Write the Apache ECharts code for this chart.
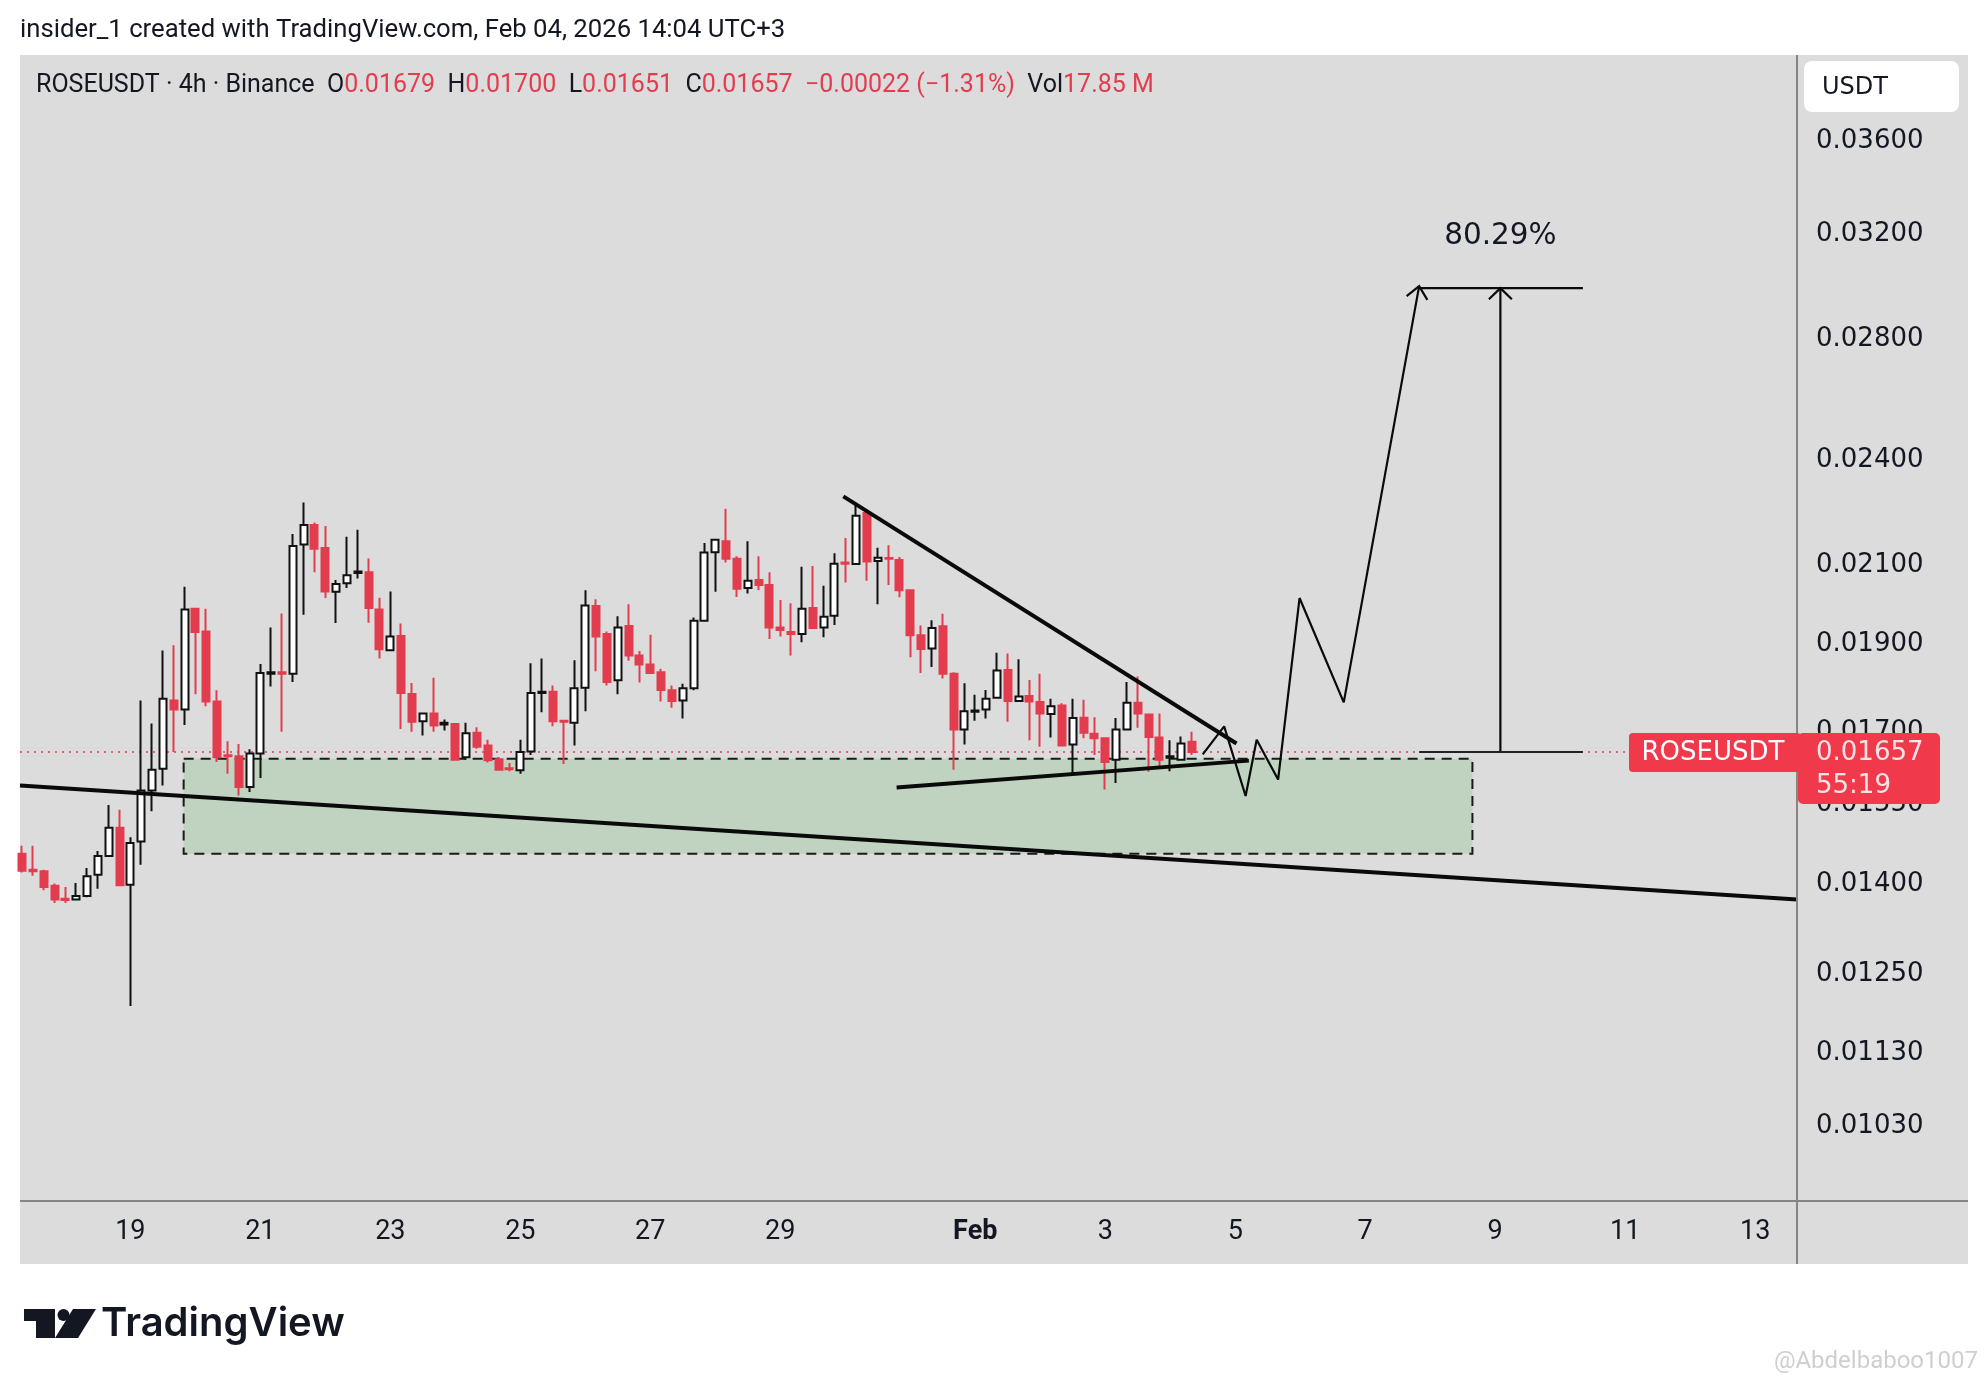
<!DOCTYPE html>
<html><head><meta charset="utf-8">
<script src="https://cdn.jsdelivr.net/npm/echarts@6/dist/echarts.min.js"></script>
<style>html,body{margin:0;padding:0;background:#fff}#c{width:1988px;height:1384px}</style>
</head><body><div id="c"></div>
<script>
// ---- candle data (4h, ROSEUSDT) ----
const firstCandleUTC = Date.UTC(2026, 0, 17, 8);
const candleStepHours = 4;
const opens = [0.01456,0.01427,0.01424,0.01398,0.01375,0.01374,0.01380,0.01418,0.01452,0.01505,
0.01400,0.01479,0.01578,0.01622,0.01769,0.01749,0.01988,0.01931,0.01767,0.01650,
0.01648,0.01585,0.01654,0.01830,0.01834,0.01830,0.02157,0.02211,0.02147,0.02031,
0.02053,0.02080,0.02082,0.01986,0.01886,0.01920,0.01784,0.01723,0.01740,0.01716,
0.01717,0.01646,0.01698,0.01671,0.01642,0.01623,0.01619,0.01658,0.01786,0.01789,
0.01724,0.01720,0.01798,0.01995,0.01925,0.01815,0.01945,0.01873,0.01852,0.01834,
0.01792,0.01769,0.01797,0.01958,0.02136,0.02166,0.02118,0.02041,0.02062,0.02049,
0.01941,0.01930,0.01925,0.01990,0.01941,0.01970,0.02108,0.02104,0.02245,0.02112,
0.02120,0.02115,0.02035,0.01922,0.01890,0.01944,0.01830,0.01705,0.01744,0.01749,
0.01775,0.01839,0.01768,0.01779,0.01766,0.01739,0.01758,0.01673,0.01731,0.01696,
0.01686,0.01641,0.01705,0.01764,0.01738,0.01688,0.01645,0.01641,0.01679];
const highs = [0.01471,0.01471,0.01427,0.01402,0.01396,0.01403,0.01430,0.01461,0.01549,0.01540,
0.01487,0.01769,0.01718,0.01885,0.01898,0.02044,0.01990,0.01988,0.01792,0.01680,
0.01674,0.01663,0.01853,0.01941,0.01976,0.02186,0.02275,0.02218,0.02208,0.02062,
0.02178,0.02198,0.02119,0.02016,0.02032,0.01951,0.01809,0.01740,0.01821,0.01727,
0.01718,0.01720,0.01710,0.01683,0.01646,0.01634,0.01683,0.01855,0.01866,0.01803,
0.01724,0.01862,0.02035,0.02012,0.01931,0.01969,0.01999,0.01884,0.01923,0.01842,
0.01803,0.01807,0.01966,0.02161,0.02170,0.02257,0.02125,0.02166,0.02125,0.02082,
0.02010,0.02002,0.02097,0.02099,0.02047,0.02133,0.02175,0.02271,0.02255,0.02148,
0.02155,0.02123,0.02035,0.01946,0.01959,0.01975,0.01834,0.01808,0.01782,0.01793,
0.01880,0.01878,0.01864,0.01816,0.01830,0.01773,0.01763,0.01773,0.01771,0.01732,
0.01688,0.01730,0.01811,0.01824,0.01738,0.01740,0.01682,0.01690,0.01700];
const lows = [0.01422,0.01416,0.01390,0.01368,0.01368,0.01372,0.01378,0.01393,0.01450,0.01397,
0.01200,0.01436,0.01537,0.01588,0.01657,0.01715,0.01783,0.01756,0.01636,0.01612,
0.01568,0.01575,0.01603,0.01801,0.01700,0.01811,0.01973,0.02082,0.02015,0.01952,
0.02041,0.02066,0.01953,0.01866,0.01885,0.01706,0.01700,0.01692,0.01700,0.01703,
0.01640,0.01641,0.01664,0.01635,0.01619,0.01617,0.01612,0.01651,0.01743,0.01712,
0.01632,0.01671,0.01745,0.01836,0.01803,0.01783,0.01861,0.01810,0.01831,0.01767,
0.01753,0.01729,0.01792,0.01956,0.02031,0.02108,0.02018,0.02027,0.02035,0.01913,
0.01919,0.01873,0.01905,0.01938,0.01917,0.01947,0.02055,0.02103,0.02060,0.01999,
0.02049,0.02017,0.01869,0.01832,0.01846,0.01819,0.01620,0.01673,0.01724,0.01729,
0.01775,0.01722,0.01766,0.01682,0.01668,0.01688,0.01670,0.01609,0.01686,0.01651,
0.01580,0.01593,0.01705,0.01709,0.01616,0.01626,0.01617,0.01640,0.01651];
const closes = [0.01425,0.01424,0.01396,0.01374,0.01373,0.01380,0.01415,0.01452,0.01505,0.01399,
0.01476,0.01578,0.01620,0.01773,0.01749,0.01986,0.01930,0.01767,0.01646,0.01648,
0.01585,0.01654,0.01832,0.01834,0.01830,0.02153,0.02211,0.02145,0.02032,0.02051,
0.02074,0.02084,0.01990,0.01888,0.01919,0.01786,0.01722,0.01740,0.01714,0.01720,
0.01641,0.01697,0.01668,0.01640,0.01620,0.01621,0.01657,0.01786,0.01789,0.01723,
0.01722,0.01797,0.01996,0.01919,0.01811,0.01941,0.01873,0.01852,0.01832,0.01793,
0.01768,0.01797,0.01958,0.02135,0.02170,0.02118,0.02039,0.02060,0.02049,0.01941,
0.01935,0.01925,0.01988,0.01940,0.01968,0.02105,0.02105,0.02237,0.02111,0.02121,
0.02118,0.02035,0.01922,0.01889,0.01940,0.01830,0.01705,0.01745,0.01747,0.01773,
0.01838,0.01768,0.01778,0.01767,0.01740,0.01756,0.01671,0.01730,0.01698,0.01686,
0.01636,0.01705,0.01764,0.01740,0.01689,0.01641,0.01648,0.01675,0.01657];

// ---- axes ----
const xTickDays = [19,21,23,25,27,29,32,34,36,38,40,42,44]; // day-of-January numbering (32 = Feb 1)
const yTickValues = [0.0103,0.0113,0.0125,0.014,0.0155,0.017,0.019,0.021,0.024,0.028,0.032,0.036];
const xRange = [17.302, 44.644];
const yRange = [0.009367, 0.04017];

// ---- drawings (x in days, y in price) ----
const lastPrice = 0.01657;
const zoneRect = [[19.82, 0.01643], [39.65, 0.01456]];
const longTrend = [[17.302, 0.01588], [44.644, 0.01374]];
const upperTrend = [[29.97, 0.02293], [36.02, 0.01675]];
const lowerTrend = [[30.79, 0.01584], [36.21, 0.01639]];
const projection = [[35.50,0.01652],[35.83,0.01712],[36.16,0.01567],[36.33,0.01683],[36.66,0.01600],[36.99,0.02015],[37.67,0.01765],[38.83,0.02995]];
const measureX = 40.08;
const measureSpan = [38.83, 41.35];
const measureFrom = 0.01657;
const measureTo = 0.029874;
const measureText = '80.29%';

const DAY = 86400000;
const jan0 = Date.UTC(2026, 0, 0);
const candleX = opens.map((_, i) => (firstCandleUTC + i * candleStepHours * 3600000 - jan0) / DAY);
const candleData = opens.map((o, i) => [candleX[i], o, closes[i], lows[i], highs[i]]);

const RED = '#e23d4e';
const FONT = 'Roboto';
const WFONT = 'DejaVu Sans';

function lineSeries(data, width, z, color, type) {
  return { type: 'line', data: data, symbol: 'none', silent: true, z: z, animation: false,
    lineStyle: { color: color || '#0a0a0a', width: width, type: type || 'solid' }, clip: true };
}

const option = {
  backgroundColor: '#ffffff',
  animation: false,
  grid: { left: 20, right: 191, top: 55, bottom: 183, containLabel: false },
  xAxis: {
    type: 'value', min: xRange[0], max: xRange[1],
    axisLine: { show: false }, axisTick: { show: false }, splitLine: { show: false },
    axisLabel: {
      customValues: xTickDays, margin: 18, color: '#131722', fontSize: 27, fontFamily: FONT,
      formatter: v => v <= 31 ? String(v) : (v === 32 ? '{b|Feb}' : String(v - 31)),
      rich: { b: { fontWeight: 'bold', fontSize: 27, fontFamily: FONT, color: '#131722' } }
    }
  },
  yAxis: {
    type: 'log', position: 'right', min: yRange[0], max: yRange[1],
    axisLine: { show: false }, axisTick: { show: false }, splitLine: { show: false },
    axisLabel: { customValues: yTickValues, margin: 19, color: '#131722', fontSize: 26, fontFamily: WFONT,
      formatter: v => Number(v).toFixed(5) }
  },
  series: [
    {
      type: 'candlestick', data: candleData, encode: { x: 0, y: [1, 2, 3, 4] }, barWidth: 7.5, z: 3,
      itemStyle: { color: '#ffffff', color0: RED, borderColor: '#111111', borderColor0: RED, borderWidth: 2 },
      markArea: { silent: true, z: 1,
        itemStyle: { color: 'rgba(76,175,80,0.2)', borderColor: '#1a1a1a', borderWidth: 2, borderType: [10, 7] },
        data: [[{ coord: zoneRect[0] }, { coord: zoneRect[1] }]] }
    },
    lineSeries([[xRange[0], lastPrice], [xRange[1], lastPrice]], 1.6, 2, RED, [2, 5]),
    lineSeries(longTrend, 4, 4),
    lineSeries(upperTrend, 4, 4),
    lineSeries(lowerTrend, 4, 4),
    lineSeries(projection, 2.2, 5),
    lineSeries([[measureX, measureFrom], [measureX, measureTo]], 2.2, 5),
    lineSeries([[measureSpan[0], measureTo], [measureSpan[1], measureTo]], 2.2, 5),
    lineSeries([[measureSpan[0], measureFrom], [measureSpan[1], measureFrom]], 2.2, 5, '#222222')
  ]
};

const chart = echarts.init(document.getElementById('c'), null, { renderer: 'canvas', width: 1988, height: 1384 });
chart.setOption(option);

const px = p => chart.convertToPixel({ gridIndex: 0 }, p);
function chevron(tip, from, L, ang) {
  const dx = tip[0] - from[0], dy = tip[1] - from[1];
  const len = Math.hypot(dx, dy), ux = dx / len, uy = dy / len;
  const rot = a => [ux * Math.cos(a) - uy * Math.sin(a), ux * Math.sin(a) + uy * Math.cos(a)];
  const r1 = rot(ang), r2 = rot(-ang);
  return [[tip[0] - L * r1[0], tip[1] - L * r1[1]], tip, [tip[0] - L * r2[0], tip[1] - L * r2[1]]];
}

const priceY = px([xRange[1], lastPrice])[1];
const projTip = px(projection[projection.length - 1]);
const projPrev = px(projection[projection.length - 2]);
const measTip = px([measureX, measureTo]);
const measBase = px([measureX, measureFrom]);

const legendRich = {
  k: { fontSize: 25, fontFamily: FONT, fill: '#131722' },
  r: { fontSize: 25, fontFamily: FONT, fill: RED }
};

chart.setOption({
  graphic: [
    { type: 'rect', z: -100, shape: { x: 20, y: 55, width: 1948, height: 1209 }, style: { fill: '#dcdcdc' }, silent: true },
    { type: 'line', z: 50, shape: { x1: 1797, y1: 55, x2: 1797, y2: 1264 }, style: { stroke: '#858585', lineWidth: 2 }, silent: true },
    { type: 'line', z: 50, shape: { x1: 20, y1: 1201, x2: 1968, y2: 1201 }, style: { stroke: '#858585', lineWidth: 2 }, silent: true },
    { type: 'text', z: 50, style: { x: 20, y: 31, text: 'insider_1 created with TradingView.com, Feb 04, 2026 14:04 UTC+3', fontSize: 25.7, fontFamily: FONT, fill: '#131722', verticalAlign: 'middle' } },
    { type: 'text', z: 50, style: { x: 36, y: 86, verticalAlign: 'middle',
        text: '{k|ROSEUSDT · 4h · Binance  O}{r|0.01679}{k|  H}{r|0.01700}{k|  L}{r|0.01651}{k|  C}{r|0.01657}{r|  −0.00022 (−1.31%)}{k|  Vol}{r|17.85 M}',
        rich: legendRich } },
    { type: 'rect', z: 50, shape: { x: 1804, y: 61, width: 155, height: 51, r: 8 }, style: { fill: '#ffffff' } },
    { type: 'text', z: 51, style: { x: 1822, y: 88, text: 'USDT', fontSize: 24, fontFamily: WFONT, fill: '#131722', verticalAlign: 'middle' } },
    // price tags
    { type: 'rect', z: 100, shape: { x: 1629, y: priceY - 19, width: 172, height: 39, r: 4 }, style: { fill: '#f03a4c' } },
    { type: 'text', z: 101, style: { x: 1713, y: priceY + 1, text: 'ROSEUSDT', fontSize: 26, fontFamily: WFONT, fill: '#ffffff', align: 'center', verticalAlign: 'middle' } },
    { type: 'rect', z: 100, shape: { x: 1798, y: priceY - 19, width: 142, height: 71, r: 5 }, style: { fill: '#f03a4c' } },
    { type: 'text', z: 101, style: { x: 1816, y: priceY + 1, text: lastPrice.toFixed(5), fontSize: 26, fontFamily: WFONT, fill: '#fde3e6', verticalAlign: 'middle' } },
    { type: 'text', z: 101, style: { x: 1816, y: priceY + 34, text: '55:19', fontSize: 26, fontFamily: WFONT, fill: '#fde3e6', verticalAlign: 'middle' } },
    // measure label & arrows
    { type: 'text', z: 60, style: { x: measTip[0], y: measTip[1] - 52, text: measureText, fontSize: 29.5, fontFamily: WFONT, fill: '#131722', align: 'center', verticalAlign: 'middle' } },
    { type: 'polyline', z: 60, shape: { points: chevron(projTip, projPrev, 16, 0.72) }, style: { stroke: '#0a0a0a', lineWidth: 2.2, fill: null } },
    { type: 'polyline', z: 60, shape: { points: chevron(measTip, measBase, 16, 0.8) }, style: { stroke: '#0a0a0a', lineWidth: 2.2, fill: null } },
    // TradingView logo
    { type: 'rect', z: 50, shape: { x: 24, y: 1309, width: 31, height: 12 }, style: { fill: '#131722' } },
    { type: 'rect', z: 50, shape: { x: 36, y: 1309, width: 19, height: 29 }, style: { fill: '#131722' } },
    { type: 'circle', z: 50, shape: { cx: 63.5, cy: 1315, r: 6 }, style: { fill: '#131722' } },
    { type: 'polygon', z: 50, shape: { points: [[73, 1309], [96, 1309], [78, 1338], [55, 1338]] }, style: { fill: '#131722' } },
    { type: 'text', z: 50, style: { x: 101, y: 1324, text: 'TradingView', fontSize: 40, fontWeight: 600, fontFamily: 'Inter', fill: '#131722', verticalAlign: 'middle' } },
    { type: 'text', z: 50, style: { x: 1978, y: 1362, text: '@Abdelbaboo1007', fontSize: 24, fontFamily: FONT, fill: '#cfcfcf', align: 'right', verticalAlign: 'middle' } }
  ]
});
</script></body></html>
